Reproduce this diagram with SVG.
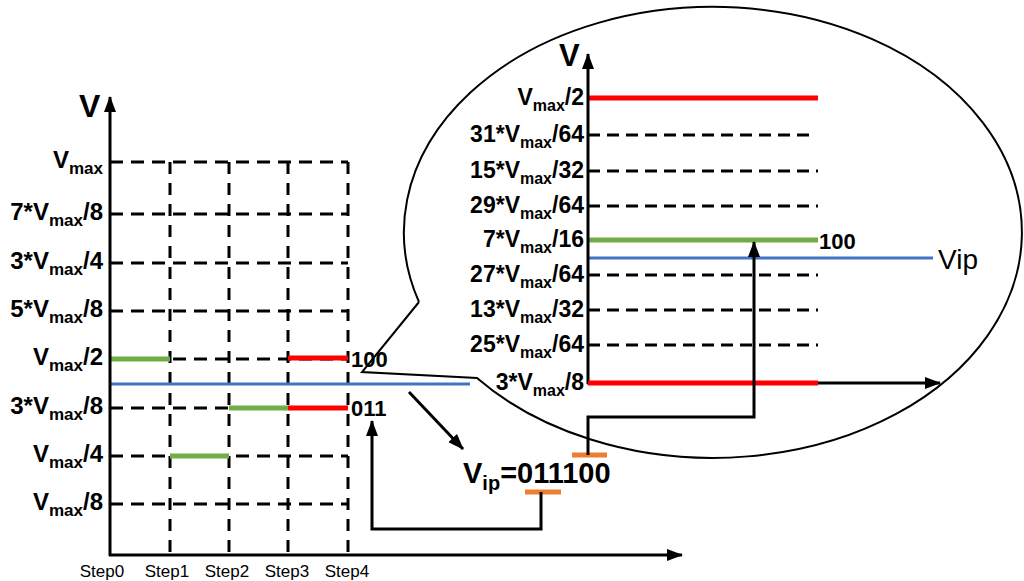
<svg xmlns="http://www.w3.org/2000/svg" width="1024" height="581" viewBox="0 0 1024 581">
<defs>
<marker id="ah" markerUnits="userSpaceOnUse" markerWidth="16" markerHeight="12" refX="15" refY="6" orient="auto">
<path d="M0,0 L16,6 L0,12 z" fill="#000"/>
</marker>
<style>
.ax{stroke:#000;stroke-width:3;fill:none}
.dh{stroke:#000;stroke-width:3;stroke-dasharray:13 8;fill:none}
.dv{stroke:#000;stroke-width:3;stroke-dasharray:12 9;fill:none}
.di{stroke:#000;stroke-width:3;stroke-dasharray:12 7;fill:none}
.g{stroke:#70AD47;stroke-width:5}
.r{stroke:#FF0000;stroke-width:5}
.b{stroke:#4472C4;stroke-width:3}
.o{stroke:#ED7D31;stroke-width:5}
.lb{font-family:"Liberation Sans",Arial,sans-serif;font-weight:bold;font-size:24px;fill:#000}
.li{font-family:"Liberation Sans",Arial,sans-serif;font-weight:bold;font-size:23px;fill:#000}
.st{font-family:"Liberation Sans",Arial,sans-serif;font-size:17px;fill:#000}
.sub{font-size:17px}
.sui{font-size:16px}
.num{font-family:"Liberation Sans",Arial,sans-serif;font-weight:bold;font-size:22px;fill:#000}
.con{stroke:#000;stroke-width:3;fill:none}
</style>
</defs>

<g id="left-chart">
<g id="left-grid">
<line class="dh" x1="110" y1="162" x2="348" y2="162"/>
<line class="dh" x1="110" y1="214" x2="348" y2="214"/>
<line class="dh" x1="110" y1="263" x2="348" y2="263"/>
<line class="dh" x1="110" y1="311" x2="348" y2="311"/>
<line class="dh" x1="110" y1="359" x2="348" y2="359"/>
<line class="dh" x1="110" y1="408" x2="348" y2="408"/>
<line class="dh" x1="110" y1="456" x2="348" y2="456"/>
<line class="dh" x1="110" y1="504" x2="348" y2="504"/>
<line class="dv" x1="170" y1="162" x2="170" y2="555"/>
<line class="dv" x1="229" y1="162" x2="229" y2="555"/>
<line class="dv" x1="288" y1="162" x2="288" y2="555"/>
<line class="dv" x1="348" y1="162" x2="348" y2="555"/>
</g>
<g id="left-levels">
<line class="g" x1="110" y1="359" x2="170" y2="359"/>
<line class="g" x1="170" y1="456" x2="229" y2="456"/>
<line class="g" x1="229" y1="408" x2="288" y2="408"/>
<line class="r" x1="288" y1="358" x2="348" y2="358"/>
<line class="r" x1="288" y1="408" x2="348" y2="408"/>
<line class="b" x1="110" y1="384" x2="470" y2="384"/>
</g>
<g id="left-axes">
<line class="ax" x1="110" y1="556" x2="110" y2="97" marker-end="url(#ah)"/>
<line class="ax" x1="109" y1="555" x2="682" y2="555" marker-end="url(#ah)"/>
<text class="lb" x="79" y="117" style="font-size:32px">V</text>
</g>
<g id="left-labels">
<text class="lb" x="103" y="168" text-anchor="end">V<tspan class="sub" dy="6">max</tspan></text>
<text class="lb" x="103" y="220" text-anchor="end">7*V<tspan class="sub" dy="6">max</tspan><tspan dy="-6">/8</tspan></text>
<text class="lb" x="103" y="269" text-anchor="end">3*V<tspan class="sub" dy="6">max</tspan><tspan dy="-6">/4</tspan></text>
<text class="lb" x="103" y="317" text-anchor="end">5*V<tspan class="sub" dy="6">max</tspan><tspan dy="-6">/8</tspan></text>
<text class="lb" x="103" y="365" text-anchor="end">V<tspan class="sub" dy="6">max</tspan><tspan dy="-6">/2</tspan></text>
<text class="lb" x="103" y="414" text-anchor="end">3*V<tspan class="sub" dy="6">max</tspan><tspan dy="-6">/8</tspan></text>
<text class="lb" x="103" y="462" text-anchor="end">V<tspan class="sub" dy="6">max</tspan><tspan dy="-6">/4</tspan></text>
<text class="lb" x="103" y="510" text-anchor="end">V<tspan class="sub" dy="6">max</tspan><tspan dy="-6">/8</tspan></text>
<text class="num" x="351" y="367">100</text>
<text class="num" x="351" y="416">011</text>
</g>
<g id="steps">
<text class="st" x="102" y="577" text-anchor="middle">Step0</text>
<text class="st" x="167" y="577" text-anchor="middle">Step1</text>
<text class="st" x="227" y="577" text-anchor="middle">Step2</text>
<text class="st" x="287" y="577" text-anchor="middle">Step3</text>
<text class="st" x="347" y="577" text-anchor="middle">Step4</text>
</g>
</g>

<g id="callout">
<path d="M419,302 L362,372 L477,378 A309,225.5 0 1 0 419,302" fill="none" stroke="#000" stroke-width="2"/>
</g>

<g id="zoom-chart">
<g id="zoom-lines">
<line class="r" x1="588" y1="98" x2="818" y2="98"/>
<line class="di" x1="588" y1="135" x2="812" y2="135"/>
<line class="di" x1="588" y1="171" x2="818" y2="171"/>
<line class="di" x1="588" y1="206" x2="818" y2="206"/>
<line class="g" x1="588" y1="240" x2="818" y2="240"/>
<line class="b" x1="588" y1="258" x2="933" y2="258"/>
<line class="di" x1="588" y1="275" x2="818" y2="275"/>
<line class="di" x1="588" y1="310" x2="818" y2="310"/>
<line class="di" x1="588" y1="345" x2="818" y2="345"/>
</g>
<g id="zoom-axes">
<line class="ax" x1="588" y1="384" x2="588" y2="54" marker-end="url(#ah)"/>
<line class="ax" x1="587" y1="383" x2="940" y2="383" marker-end="url(#ah)"/>
<line class="r" x1="588" y1="383" x2="818" y2="383"/>
<text class="lb" x="559" y="66" style="font-size:31px">V</text>
</g>
<g id="zoom-labels">
<text class="li" x="584" y="105" text-anchor="end">V<tspan class="sui" dy="6">max</tspan><tspan dy="-6">/2</tspan></text>
<text class="li" x="584" y="142" text-anchor="end">31*V<tspan class="sui" dy="6">max</tspan><tspan dy="-6">/64</tspan></text>
<text class="li" x="584" y="178" text-anchor="end">15*V<tspan class="sui" dy="6">max</tspan><tspan dy="-6">/32</tspan></text>
<text class="li" x="584" y="213" text-anchor="end">29*V<tspan class="sui" dy="6">max</tspan><tspan dy="-6">/64</tspan></text>
<text class="li" x="584" y="247" text-anchor="end">7*V<tspan class="sui" dy="6">max</tspan><tspan dy="-6">/16</tspan></text>
<text class="li" x="584" y="282" text-anchor="end">27*V<tspan class="sui" dy="6">max</tspan><tspan dy="-6">/64</tspan></text>
<text class="li" x="584" y="317" text-anchor="end">13*V<tspan class="sui" dy="6">max</tspan><tspan dy="-6">/32</tspan></text>
<text class="li" x="584" y="352" text-anchor="end">25*V<tspan class="sui" dy="6">max</tspan><tspan dy="-6">/64</tspan></text>
<text class="li" x="584" y="390" text-anchor="end">3*V<tspan class="sui" dy="6">max</tspan><tspan dy="-6">/8</tspan></text>
<text class="num" x="819" y="249">100</text>
<text x="938" y="269" font-family="Liberation Sans, Arial, sans-serif" font-size="28">Vip</text>
</g>
</g>

<g id="vip-code">
<text class="lb" x="463" y="483" style="font-size:29px">V<tspan dy="7" style="font-size:20px">ip</tspan><tspan dy="-7">=011100</tspan></text>
<line class="o" x1="572" y1="455" x2="607" y2="455"/>
<line class="o" x1="525" y1="492" x2="561" y2="492"/>
</g>

<g id="connectors">
<line class="con" x1="409" y1="392" x2="463" y2="449" marker-end="url(#ah)"/>
<polyline class="con" points="541,492 541,529 372,529 372,421" marker-end="url(#ah)"/>
<polyline class="con" points="588,455 588,417 754,417 754,242" marker-end="url(#ah)"/>
</g>
</svg>
